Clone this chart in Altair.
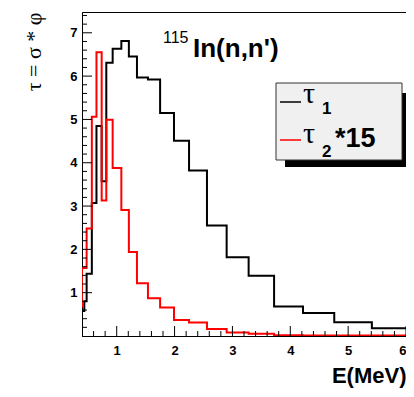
import altair as alt
import pandas as pd

# ---- data ----
edges_t1 = [0.40, 0.40, 0.44, 0.48, 0.57, 0.65, 0.74, 0.82, 0.93, 1.08, 1.21, 1.35,
            1.54, 1.75, 1.99, 2.25, 2.56, 2.90, 3.28, 3.72, 4.22, 4.76, 5.41, 6.05]
tau1 = [0.37, 0.58, 0.80, 1.44, 3.07, 4.85, 3.57, 6.31, 6.63, 6.81, 6.45, 5.97,
        5.92, 5.15, 4.51, 3.82, 2.55, 1.82, 1.39, 0.68, 0.53, 0.32, 0.18, 0.18]

edges_t2 = [0.40, 0.40, 0.48, 0.57, 0.65, 0.74, 0.82, 0.93, 1.08, 1.21, 1.35, 1.54,
            1.75, 1.99, 2.25, 2.56, 2.90, 3.28, 3.72, 4.22, 4.76, 5.41, 6.05]
tau2x15 = [0.66, 1.57, 2.48, 5.06, 6.55, 3.13, 4.99, 3.88, 2.91, 1.94, 1.22, 0.87,
           0.66, 0.37, 0.31, 0.16, 0.08, 0.05, 0.02, 0.01, 0.01, 0.01, 0.01]

x_major = [1, 2, 3, 4, 5, 6]
y_major = [1, 2, 3, 4, 5, 6, 7]
x_minor = [round(0.2 * k, 1) for k in range(3, 31) if k % 5]
y_minor = [round(0.2 * k, 1) for k in range(1, 38) if k % 5]

W, H = 324, 324
FONT = "Liberation Sans"
GREEK = "Liberation Serif"

xs = alt.Scale(domain=[0.4, 6.0], nice=False, zero=False)
ys = alt.Scale(domain=[0, 7.48], nice=False, zero=False)

df1 = pd.DataFrame({"e": edges_t1, "v": tau1, "i": list(range(len(tau1)))})
df2 = pd.DataFrame({"e": edges_t2, "v": tau2x15, "i": list(range(len(tau2x15)))})

xaxis = alt.Axis(values=x_major, tickSize=0, labelPadding=8, labelFont=FONT,
                 labelFontWeight="bold", labelFontSize=13, labelColor="black",
                 domainColor="black", grid=False, labelFlush=True,
                 title="E(MeV)", titleFont=FONT, titleFontWeight="bold",
                 titleFontSize=22, titleColor="black", titleAnchor="end",
                 titleX=W, titleY=46, titleAlign="right", titleBaseline="alphabetic")
yaxis = alt.Axis(values=y_major, tickSize=0, labelPadding=5, labelFont=FONT,
                 labelFontWeight="bold", labelFontSize=13, labelColor="black",
                 domainColor="black", grid=False,
                 title="τ = σ * φ", titleFont=GREEK, titleFontWeight="normal",
                 titleFontSize=22, titleColor="black", titleAngle=270,
                 titleX=-49, titleY=0, titleAlign="right", titleBaseline="middle")

X = lambda f: alt.X(f, scale=xs, axis=xaxis)
Y = lambda f: alt.Y(f, scale=ys, axis=yaxis)

black = alt.Chart(df1).mark_line(interpolate="step-after", clip=True, color="black",
                                 strokeWidth=2).encode(
    x=X("e:Q"), y=Y("v:Q"), order="i:Q")
red = alt.Chart(df2).mark_line(interpolate="step-after", clip=True, color="#ff0000",
                               strokeWidth=2).encode(
    x=X("e:Q"), y=Y("v:Q"), order="i:Q")

def yticks(vals, length):
    return alt.Chart(pd.DataFrame({"e": vals})).mark_rule(color="black", strokeWidth=1).encode(
        y=Y("e:Q"), x=alt.value(0), x2=alt.value(length))

def xticks(vals, length):
    return alt.Chart(pd.DataFrame({"e": vals})).mark_rule(color="black", strokeWidth=1).encode(
        x=X("e:Q"), y=alt.value(H), y2=alt.value(H - length))

one = pd.DataFrame({"a": [0]})

def txt(s, x, y, size, weight="normal", font=FONT):
    return alt.Chart(one).mark_text(text=s, font=font, fontSize=size, fontWeight=weight,
                                    align="left", baseline="alphabetic", color="black").encode(
        x=alt.value(x), y=alt.value(y))

shadow = alt.Chart(one).mark_rect(color="black").encode(
    x=alt.value(203), x2=alt.value(324), y=alt.value(81), y2=alt.value(155))
box = alt.Chart(one).mark_rect(fill="#f0f0f0", stroke="#333333", strokeWidth=1).encode(
    x=alt.value(194), x2=alt.value(320), y=alt.value(71), y2=alt.value(148))
leg1 = alt.Chart(one).mark_rule(color="black", strokeWidth=1.5).encode(
    x=alt.value(198), x2=alt.value(219), y=alt.value(90))
leg2 = alt.Chart(one).mark_rule(color="#ff0000", strokeWidth=1.5).encode(
    x=alt.value(198), x2=alt.value(219), y=alt.value(128))

layers = [
    black, red,
    yticks(y_major, 10), yticks(y_minor, 5),
    xticks(x_major, 10), xticks(x_minor, 5),
    shadow, box, leg1, leg2,
    txt("τ", 221, 91, 30, font=GREEK),
    txt("1", 240, 102, 17, "bold"),
    txt("τ", 221, 131, 30, font=GREEK),
    txt("2", 240, 145, 17, "bold"),
    txt("*15", 253, 135, 27, "bold"),
    txt("115", 81, 31, 16),
    txt("In(n,n')", 111, 45, 26, "bold"),
]

chart = alt.layer(*layers).properties(
    width=W, height=H,
    autosize=alt.AutoSizeParams(type="none"),
    padding={"left": 74, "top": 4, "right": 0, "bottom": 52},
    background="white",
).configure_view(stroke="black", strokeWidth=1)

chart.save("out.html", embed_options={"renderer": "svg", "actions": False})
